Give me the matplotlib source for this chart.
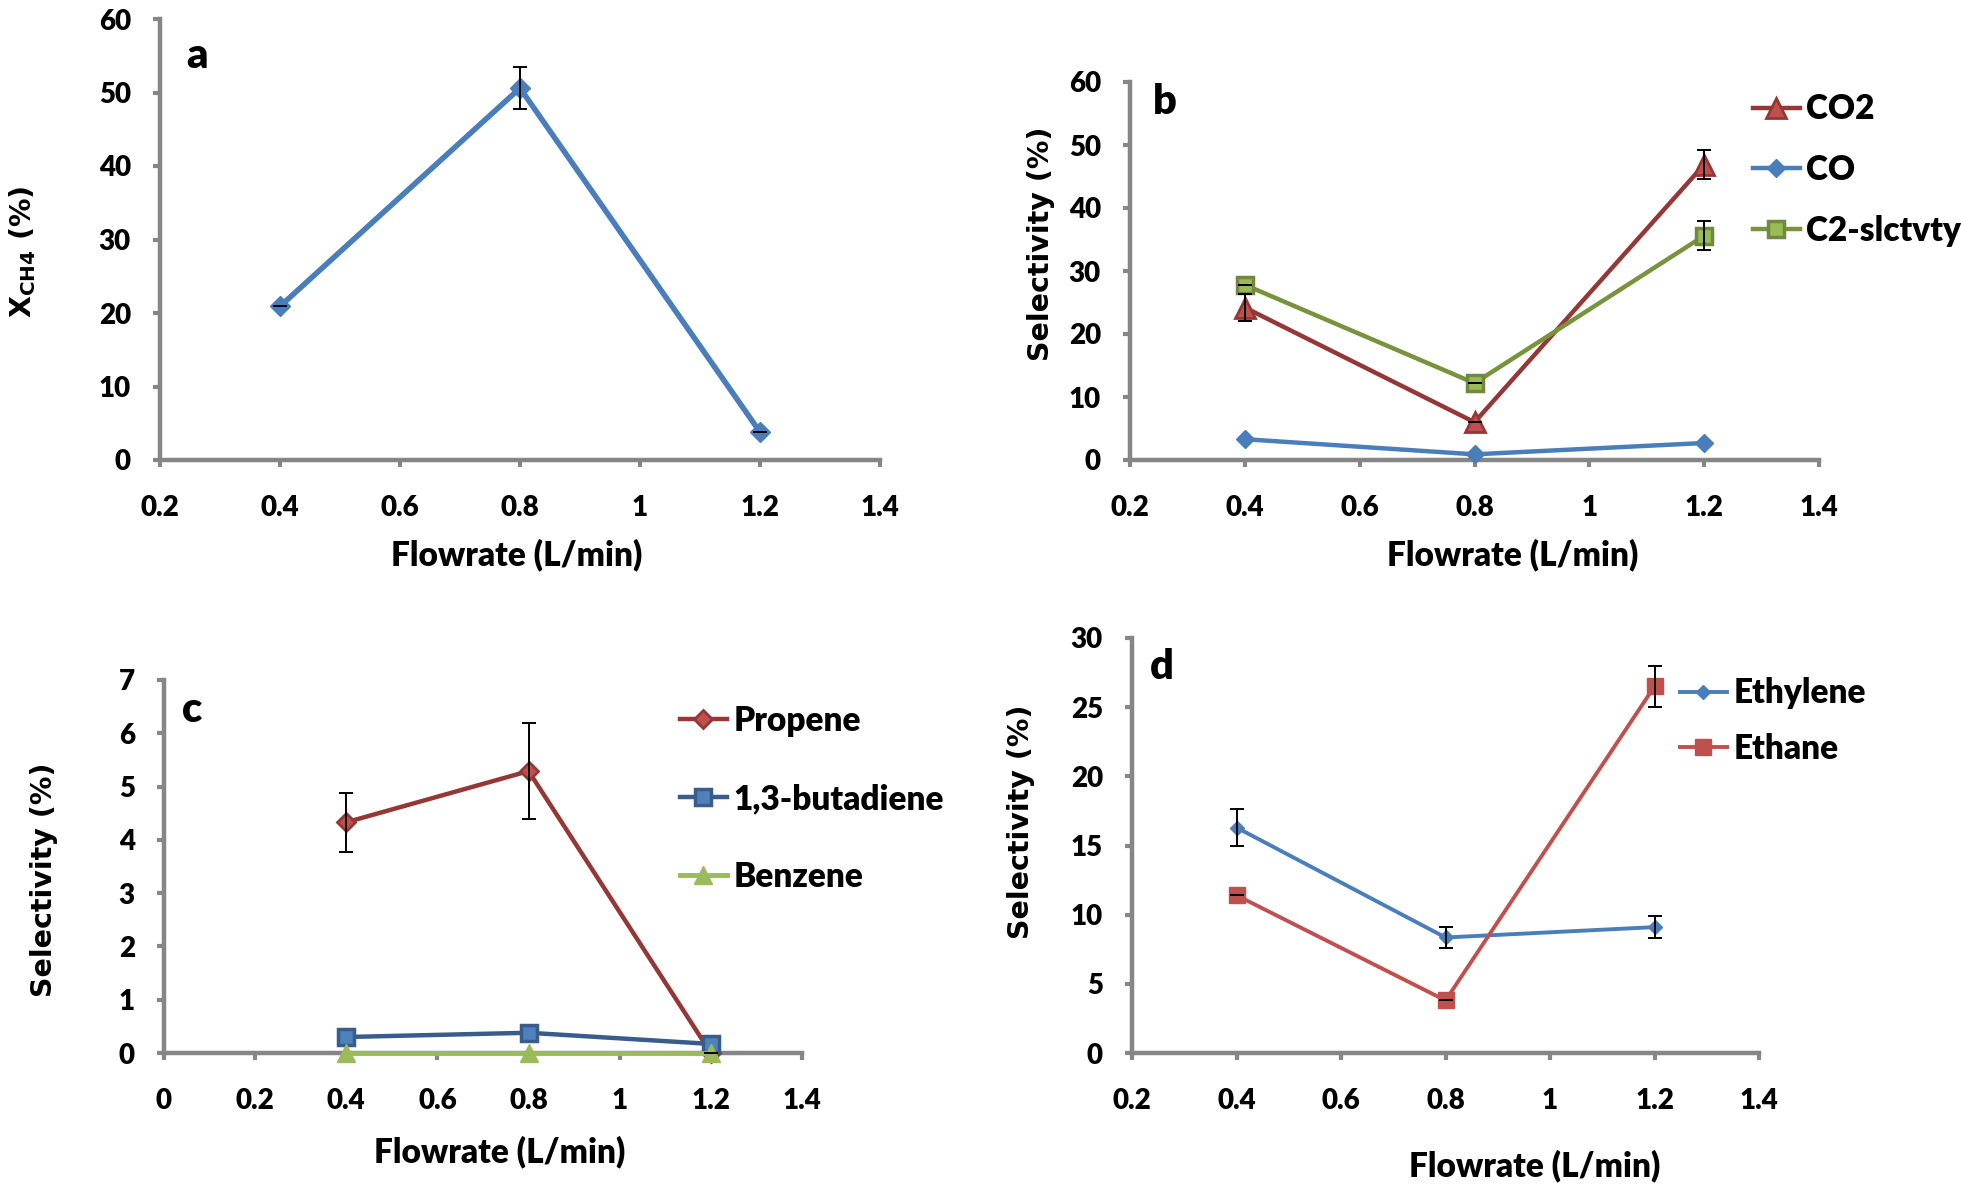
import matplotlib
matplotlib.use("Agg")
import matplotlib.pyplot as plt

plt.rcParams['font.family'] = ['Lato', 'DejaVu Sans']
plt.rcParams['font.weight'] = 'heavy'
plt.rcParams['mathtext.fontset'] = 'dejavusans'

# ---------------- data ----------------
flow = [0.4, 0.8, 1.2]

xch4 = [20.9, 50.6, 3.8]
xch4_err = [0, 2.85, 0]

co2 = [24.2, 6.0, 46.9]
co2_err = [2.1, 0, 2.3]
co = [3.3, 0.9, 2.7]
c2 = [27.8, 12.2, 35.6]
c2_err = [0, 0, 2.3]

propene = [4.33, 5.29, 0.0]
propene_err = [0.55, 0.9, 0]
butadiene = [0.30, 0.38, 0.17]
benzene = [0.0, 0.0, 0.0]

ethylene = [16.3, 8.35, 9.1]
ethylene_err = [1.35, 0.77, 0.81]
ethane = [11.4, 3.8, 26.5]
ethane_err = [0, 0, 1.5]

xt_a = [0.2, 0.4, 0.6, 0.8, 1.0, 1.2, 1.4]
xt_a_labels = ['0.2', '0.4', '0.6', '0.8', '1', '1.2', '1.4']
xt_c = [0.0, 0.2, 0.4, 0.6, 0.8, 1.0, 1.2, 1.4]
xt_c_labels = ['0', '0.2', '0.4', '0.6', '0.8', '1', '1.2', '1.4']
yt_a = [0, 10, 20, 30, 40, 50, 60]
yt_c = [0, 1, 2, 3, 4, 5, 6, 7]
yt_d = [0, 5, 10, 15, 20, 25, 30]

W, H = 1961, 1191
fig = plt.figure(figsize=(W / 100, H / 100), dpi=100)

AX_COL = '#868686'
WT = 'heavy'


def add_ax(left, top, right, bottom):
    return fig.add_axes([left / W, 1 - bottom / H, (right - left) / W, (bottom - top) / H])


def style(ax, xt, xl, yt):
    ax.set_xlim(xt[0], xt[-1])
    ax.set_ylim(yt[0], yt[-1])
    ax.set_xticks(xt)
    ax.set_xticklabels(xl)
    ax.set_yticks(yt)
    ax.set_yticklabels([str(v) for v in yt])
    for s in ['top', 'right']:
        ax.spines[s].set_visible(False)
    for s in ['left', 'bottom']:
        ax.spines[s].set_color(AX_COL)
        ax.spines[s].set_linewidth(3.2)
    ax.tick_params(axis='both', direction='out', length=5, width=3, color=AX_COL,
                   labelsize=20)
    ax.tick_params(axis='x', pad=20)
    ax.tick_params(axis='y', pad=16)
    for lab in ax.get_xticklabels() + ax.get_yticklabels():
        lab.set_fontweight(WT)


def ebar(ax, y, err):
    ax.errorbar(flow, y, yerr=err, fmt='none', ecolor='black', elinewidth=1.4,
                capsize=5, capthick=1.4, zorder=5, clip_on=False)


def xlabel(x, y):
    fig.text(x / W, 1 - y / H, 'Flowrate (L/min)', ha='center', va='center',
             fontsize=24, fontweight=WT)


def ylabel(x, y, s):
    fig.text(x / W, 1 - y / H, s, ha='center', va='center', rotation=90,
             fontsize=20.5, fontweight='bold', family='DejaVu Sans')


def letter(x, y, s):
    fig.text(x / W, 1 - y / H, s, ha='center', va='center', fontsize=30,
             fontweight=WT)


leg_kw = dict(frameon=False, loc='center left', bbox_transform=fig.transFigure,
              prop={'weight': WT, 'size': 24}, handlelength=1.4,
              handletextpad=0.2, borderpad=0, borderaxespad=0, numpoints=1)

# ---------------- panel a ----------------
ax = add_ax(160, 19, 880, 460)
style(ax, xt_a, xt_a_labels, yt_a)
ax.plot(flow, xch4, color='#4A7EBB', lw=4, marker='D', ms=10, mfc='#4A7EBB',
        mec='#4A7EBB', zorder=3, clip_on=False)
ebar(ax, xch4, xch4_err)
xlabel(517, 555)
ylabel(23, 252, r'X$_{\mathbf{CH4}}$ (%)')
letter(197, 56, 'a')

# ---------------- panel b ----------------
ax = add_ax(1130, 82, 1819, 460)
style(ax, xt_a, xt_a_labels, yt_a)
l1, = ax.plot(flow, co2, color='#953735', lw=3.2, marker='^', ms=14, mfc='#C0504D',
              mec='#953735', mew=2, zorder=3, clip_on=False, label='CO2')
l2, = ax.plot(flow, co, color='#4A7EBB', lw=3.2, marker='D', ms=9.5, mfc='#4A7EBB',
              mec='#4A7EBB', zorder=3, clip_on=False, label='CO')
l3, = ax.plot(flow, c2, color='#77933C', lw=3.2, marker='s', ms=12, mfc='#9BBB59',
              mec='#71893F', mew=2.5, zorder=3, clip_on=False, label='C2-slctvty')
ebar(ax, co2, co2_err)
ebar(ax, c2, c2_err)
ax.legend(handles=[l1, l2, l3], bbox_to_anchor=(1753 / W, 1 - 170 / H),
          labelspacing=0.86, **leg_kw)
xlabel(1513, 555)
ylabel(1041, 244, 'Selectivity (%)')
letter(1165, 102, 'b')

# ---------------- panel c ----------------
ax = add_ax(164, 680, 802, 1053)
style(ax, xt_c, xt_c_labels, yt_c)
m1, = ax.plot(flow, propene, color='#953735', lw=3.2, marker='D', ms=9, mfc='#C0504D',
              mec='#953735', mew=2, zorder=3, clip_on=False, label='Propene')
m2, = ax.plot(flow, butadiene, color='#385D8A', lw=3.2, marker='s', ms=12, mfc='#4F81BD',
              mec='#385D8A', mew=2.5, zorder=3, clip_on=False, label='1,3-butadiene')
m3, = ax.plot(flow, benzene, color='#9BBB59', lw=3.5, marker='^', ms=13, mfc='#9BBB59',
              mec='#9BBB59', zorder=4, clip_on=False, label='Benzene')
ebar(ax, propene, propene_err)
ax.legend(handles=[m1, m2, m3], bbox_to_anchor=(680 / W, 1 - 799 / H),
          labelspacing=1.38, **leg_kw)
xlabel(500, 1152)
ylabel(44, 880, 'Selectivity (%)')
letter(192, 710, 'c')

# ---------------- panel d ----------------
ax = add_ax(1132, 638, 1759, 1053)
style(ax, xt_a, xt_a_labels, yt_d)
n1, = ax.plot(flow, ethylene, color='#4A7EBB', lw=2.8, marker='D', ms=7, mfc='#4A7EBB',
              mec='#4A7EBB', zorder=3, clip_on=False, label='Ethylene')
n2, = ax.plot(flow, ethane, color='#C0504D', lw=2.8, marker='s', ms=11, mfc='#C0504D',
              mec='#C0504D', zorder=3, clip_on=False, label='Ethane')
ebar(ax, ethylene, ethylene_err)
ebar(ax, ethane, ethane_err)
ax.legend(handles=[n1, n2], bbox_to_anchor=(1680 / W, 1 - 721 / H),
          labelspacing=0.7, **leg_kw)
xlabel(1535, 1166)
ylabel(1021, 822, 'Selectivity (%)')
letter(1162, 667, 'd')

fig.savefig('out.png', dpi=100)
